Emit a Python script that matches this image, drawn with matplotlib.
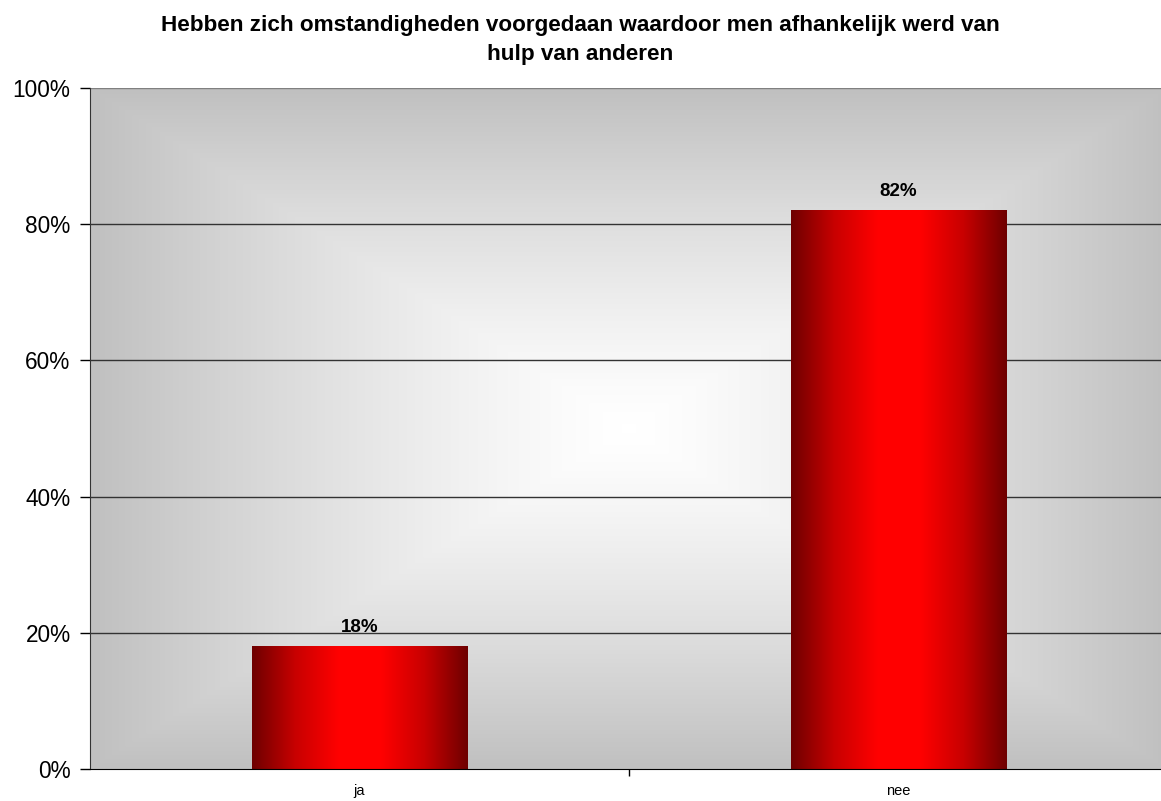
import numpy as np
import matplotlib
matplotlib.use("Agg")
import matplotlib.pyplot as plt
from matplotlib.colors import LinearSegmentedColormap

categories = ["ja", "nee"]
values = [18, 82]
yticks = [0, 20, 40, 60, 80, 100]
title = "Hebben zich omstandigheden voorgedaan waardoor men afhankelijk werd van\nhulp van anderen"

plt.rcParams['font.family'] = ['Liberation Sans', 'DejaVu Sans']

fig = plt.figure(figsize=(11.61, 8.01), dpi=100)
ax = fig.add_axes([90/1161, 1 - 769/801, (1168-90)/1161, (769-88)/801])

# background gradient, light centre fading out to grey
n = 400
gx, gy = np.meshgrid(np.linspace(-1, 1, n), np.linspace(-1, 1, n))
t = np.maximum(np.abs(gx), np.abs(gy)) ** 1.3
bg = LinearSegmentedColormap.from_list("bg", ["#ffffff", "#c0c0c0"])
ax.imshow(t, cmap=bg, extent=[-0.5, 1.5, 0, 100], aspect="auto", zorder=0, vmin=0, vmax=1)

for y in yticks[1:]:
    ax.axhline(y, color="#333333" if y < 100 else "#808080", lw=1, zorder=1)

bar_cmap = LinearSegmentedColormap.from_list("bar", ["#6e0000", "#c80000", "#ff0000", "#ff0000", "#c80000", "#6e0000"])
grad = np.linspace(0, 1, 256).reshape(1, -1)
width = 0.40
for i, v in enumerate(values):
    ax.imshow(grad, cmap=bar_cmap, extent=[i - width/2, i + width/2, 0, v], aspect="auto", zorder=2)
    ax.text(i, v + 1.6, "%d%%" % v, ha="center", va="bottom", fontsize=13.5, fontweight="bold", zorder=3)

ax.set_xlim(-0.5, 1.5)
ax.set_ylim(0, 100)
ax.set_yticks(yticks)
ax.set_yticklabels(["%d%%" % y for y in yticks], fontsize=16.3)
ax.set_xticks([0, 1])
ax.set_xticklabels(categories, fontsize=10.5)
ax.set_xticks([0.5], minor=True)
ax.tick_params(axis="x", which="major", length=0, pad=11)
ax.tick_params(axis="x", which="minor", length=5, width=1)
ax.tick_params(axis="y", length=7, width=1, pad=7)
for s in ["top", "right"]:
    ax.spines[s].set_visible(False)
ax.spines["left"].set_color("#333333")
ax.spines["bottom"].set_color("black")

fig.text(0.5, 1 - 40/801, title, ha="center", va="center", fontsize=16.2,
         fontweight="bold", linespacing=1.55)

fig.savefig("out.png", dpi=100)
